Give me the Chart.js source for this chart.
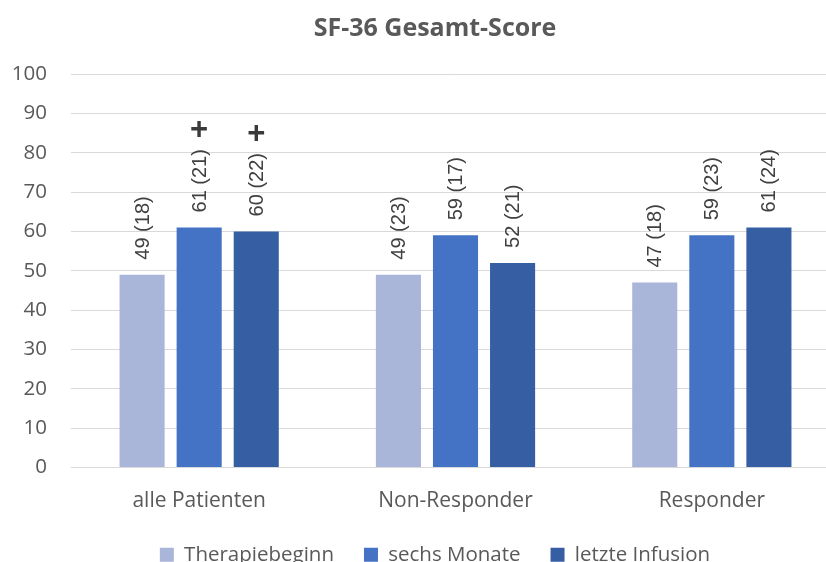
<!DOCTYPE html>
<html lang="de">
<head>
<meta charset="utf-8">
<title>SF-36 Gesamt-Score</title>
<script src="https://cdn.jsdelivr.net/npm/chart.js@4.4.1/dist/chart.umd.min.js"></script>
<style>
    html, body { margin: 0; padding: 0; background: #ffffff; overflow: hidden; }
    #wrap { width: 870px; height: 575px; }
</style>
</head>
<body>
<div id="wrap"><canvas id="sfChart" width="870" height="575"></canvas></div>
<script>
// daten aus dem diagramm
const categories = ['alle Patienten', 'Non-Responder', 'Responder'];
const seriesNames = ['Therapiebeginn', 'sechs Monate', 'letzte Infusion'];

const therapiebeginn = [49, 49, 47];
const therapiebeginnSD = [18, 23, 18];
const therapiebeginnMarker = ['', '', ''];

const sechsMonate = [61, 59, 59];
const sechsMonateSD = [21, 17, 23];
const sechsMonateMarker = ['+', '', ''];

const letzteInfusion = [60, 52, 61];
const letzteInfusionSD = [22, 21, 24];
const letzteInfusionMarker = ['+', '', ''];

const yMin = 0;
const yMax = 100;
const yStep = 10;

const seriesColors = ['#A9B6DA', '#4472C4', '#365EA3'];

// beschriftung "mittelwert (sd)" senkrecht über den balken + markierung
const barLabels = {
    id: 'barLabels',
    afterDatasetsDraw(chart) {
        const ctx = chart.ctx;
        chart.data.datasets.forEach((ds, i) => {
            const meta = chart.getDatasetMeta(i);
            meta.data.forEach((bar, j) => {
                const text = ds.data[j] + ' (' + ds.sd[j] + ')';
                ctx.save();
                ctx.font = '20px "Liberation Sans", Arial, sans-serif';
                ctx.fillStyle = '#404040';
                ctx.textAlign = 'left';
                ctx.textBaseline = 'middle';
                const w = ctx.measureText(text).width;
                ctx.translate(bar.x + 1, bar.y - 15);
                ctx.rotate(-Math.PI / 2);
                ctx.fillText(text, 0, 0);
                ctx.restore();

                if (ds.marker[j]) {
                    ctx.save();
                    ctx.font = 'bold 31px "Liberation Sans", Arial, sans-serif';
                    ctx.fillStyle = '#3A3A3A';
                    ctx.textAlign = 'center';
                    ctx.textBaseline = 'middle';
                    ctx.fillText(ds.marker[j], bar.x, bar.y - 15 - w - 19);
                    ctx.restore();
                }
            });
        });
    }
};

const ctx = document.getElementById('sfChart').getContext('2d');
const sfChart = new Chart(ctx, {
    type: 'bar',
    data: {
        labels: categories,
        datasets: [{
            label: seriesNames[0],
            data: therapiebeginn,
            sd: therapiebeginnSD,
            marker: therapiebeginnMarker,
            backgroundColor: seriesColors[0]
        }, {
            label: seriesNames[1],
            data: sechsMonate,
            sd: sechsMonateSD,
            marker: sechsMonateMarker,
            backgroundColor: seriesColors[1]
        }, {
            label: seriesNames[2],
            data: letzteInfusion,
            sd: letzteInfusionSD,
            marker: letzteInfusionMarker,
            backgroundColor: seriesColors[2]
        }]
    },
    options: {
        responsive: false,
        animation: false,
        categoryPercentage: 0.668,
        barPercentage: 0.79,
        layout: {
            padding: 0
        },
        plugins: {
            title: {
                display: true,
                text: 'SF-36 Gesamt-Score',
                color: '#595959',
                font: { family: '"Open Sans", sans-serif', size: 25, weight: 'bold' },
                padding: { top: 14, bottom: 30 }
            },
            legend: {
                display: true,
                position: 'bottom',
                labels: {
                    boxWidth: 14,
                    boxHeight: 14,
                    padding: 30,
                    color: '#595959',
                    font: { family: '"Open Sans", sans-serif', size: 20.5 }
                }
            },
            tooltip: { enabled: false }
        },
        scales: {
            x: {
                afterFit(scale) { scale.height = 47; },
                grid: { display: false, drawTicks: false },
                border: { display: true, color: '#D9D9D9', width: 1 },
                ticks: {
                    color: '#595959',
                    padding: 21,
                    font: { family: '"Open Sans", sans-serif', size: 21 }
                }
            },
            y: {
                min: yMin,
                max: yMax,
                afterFit(scale) { scale.width = 71; },
                grid: { color: '#D9D9D9', lineWidth: 1, drawTicks: false },
                border: { display: false },
                ticks: {
                    stepSize: yStep,
                    color: '#595959',
                    padding: 24,
                    font: { family: '"Open Sans", sans-serif', size: 20.5 }
                }
            },
            // leerer rand rechts, damit titel und legende mittig bleiben
            yRand: {
                type: 'linear',
                position: 'right',
                display: true,
                afterFit(scale) { scale.width = 30; },
                grid: { display: false, drawTicks: false },
                border: { display: false },
                ticks: { display: false }
            }
        }
    },
    plugins: [barLabels]
});
</script>
</body>
</html>
